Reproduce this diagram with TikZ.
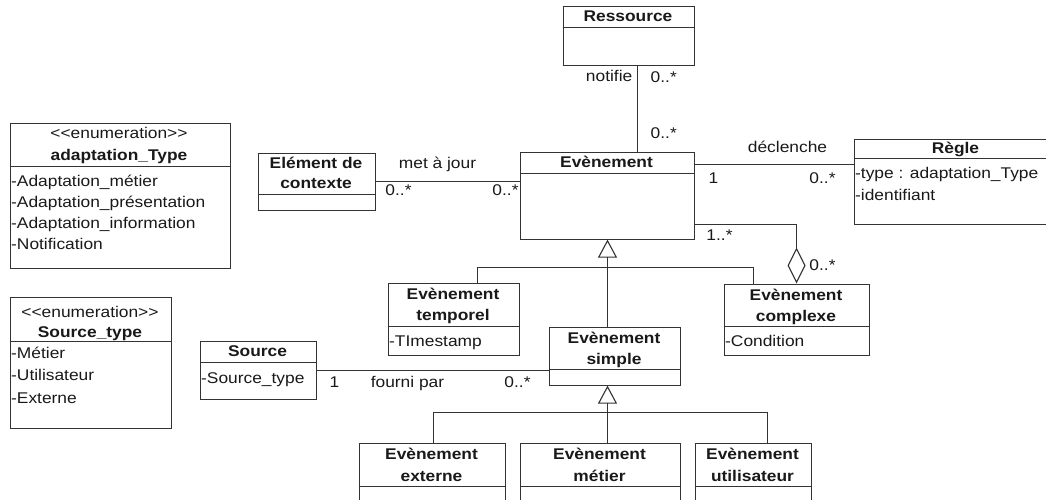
\documentclass[tikz,border=0pt]{standalone}
\usepackage{fontspec}
\setmainfont{Liberation Sans}[FakeStretch=1.12]
\usepackage{tikz}
\usetikzlibrary{arrows.meta}
\newcommand{\stereo}[1]{<\kern0pt<#1>\kern0pt>}

\begin{document}
\begin{tikzpicture}[x=1pt, y=-1pt, font=\fontsize{15.5pt}{20pt}\selectfont, text=black!90,
			cls/.style={draw=black!80, line width=1.1pt, inner sep=0pt, anchor=north west},
			ttl/.style={font=\fontsize{15.5pt}{20pt}\selectfont\bfseries, anchor=base, inner sep=0pt},
			txt/.style={anchor=base, inner sep=0pt},
			att/.style={anchor=base west, inner sep=0pt},
			lnk/.style={draw=black!80, line width=1.1pt},
			gen/.style={lnk, -{Triangle[open, length=18pt, width=19pt]}},
			agg/.style={lnk, {Diamond[open, length=36pt, width=18pt]}-}
			]
			\useasboundingbox (0,0) rectangle (1046,499);
			\clip (0,0) rectangle (1046,499);
			\begin{scope}[shift={(0.5,0.5)}]
			
			\node [cls, minimum width=220pt, minimum height=145pt](adapt) at (9,122) {};
			\node [cls, minimum width=161pt, minimum height=131pt](srctype) at (9,296) {};
			\node [cls, minimum width=131pt, minimum height=59pt](res) at (562,5) {};
			\node [cls, minimum width=117pt, minimum height=57pt](elem) at (257,152) {};
			\node [cls, minimum width=174pt, minimum height=87pt](ev) at (519,151) {};
			\node [cls, minimum width=204pt, minimum height=85pt](regle) at (853,138) {};
			\node [cls, minimum width=131pt, minimum height=72pt](temp) at (387,282) {};
			\node [cls, minimum width=145pt, minimum height=71pt](cplx) at (723,283) {};
			\node [cls, minimum width=131pt, minimum height=58pt](simple) at (548,326) {};
			\node [cls, minimum width=116pt, minimum height=58pt](src) at (199,340) {};
			\node [cls, minimum width=146pt, minimum height=70pt](ext) at (358,442) {};
			\node [cls, minimum width=160pt, minimum height=70pt](met) at (519,442) {};
			\node [cls, minimum width=116pt, minimum height=70pt](util) at (694,442) {};
			
			\draw[lnk] ([yshift=-44pt]adapt.north west) -- ([yshift=-44pt]adapt.north east);
			\draw[lnk] ([yshift=-45pt]srctype.north west) -- ([yshift=-45pt]srctype.north east);
			\draw[lnk] ([yshift=-22pt]res.north west) -- ([yshift=-22pt]res.north east);
			\draw[lnk] ([yshift=-42pt]elem.north west) -- ([yshift=-42pt]elem.north east);
			\draw[lnk] ([yshift=-22pt]ev.north west) -- ([yshift=-22pt]ev.north east);
			\draw[lnk] ([yshift=-20pt]regle.north west) -- ([yshift=-20pt]regle.north east);
			\draw[lnk] ([yshift=-44pt]temp.north west) -- ([yshift=-44pt]temp.north east);
			\draw[lnk] ([yshift=-43pt]cplx.north west) -- ([yshift=-43pt]cplx.north east);
			\draw[lnk] ([yshift=-43pt]simple.north west) -- ([yshift=-43pt]simple.north east);
			\draw[lnk] ([yshift=-22pt]src.north west) -- ([yshift=-22pt]src.north east);
			\draw[lnk] ([yshift=-44pt]ext.north west) -- ([yshift=-44pt]ext.north east);
			\draw[lnk] ([yshift=-44pt]met.north west) -- ([yshift=-44pt]met.north east);
			\draw[lnk] ([yshift=-44pt]util.north west) -- ([yshift=-44pt]util.north east);
			
			\node [txt](adapt-st) at (118.5,138) {\stereo{enumeration}};
			\node [ttl](adapt-t) at (118.5,160) {adaptation\_Type};
			\node [att](adapt-a1) at (10.5,186) {-Adaptation\_métier};
			\node [att](adapt-a2) at (10.5,207) {-Adaptation\_présentation};
			\node [att](adapt-a3) at (10.5,228) {-Adaptation\_information};
			\node [att](adapt-a4) at (10.5,249) {-Notification};
			
			\node [txt](srctype-st) at (89.5,317) {\stereo{enumeration}};
			\node [ttl](srctype-t) at (89.5,337) {Source\_type};
			\node [att](srctype-a1) at (10.5,358) {-Métier};
			\node [att](srctype-a2) at (10.5,380) {-Utilisateur};
			\node [att](srctype-a3) at (10.5,403) {-Externe};
			
			\node [ttl](res-t) at (627.5,21) {Ressource};
			\node [ttl](elem-t1) at (315.5,168) {Elément de};
			\node [ttl](elem-t2) at (315.5,188) {contexte};
			\node [ttl](ev-t) at (606,167) {Evènement};
			\node [ttl](regle-t) at (955,153) {Règle};
			\node [att](regle-a1) at (854.5,178) {-type : adaptation\_Type};
			\node [att](regle-a2) at (854.5,200) {-identifiant};
			
			\node [ttl](temp-t1) at (452.5,299) {Evènement};
			\node [ttl](temp-t2) at (452.5,320) {temporel};
			\node [att](temp-a1) at (388.5,346) {-TImestamp};
			\node [ttl](cplx-t1) at (795.5,300) {Evènement};
			\node [ttl](cplx-t2) at (795.5,321) {complexe};
			\node [att](cplx-a1) at (724.5,346) {-Condition};
			\node [ttl](simple-t1) at (613.5,343) {Evènement};
			\node [ttl](simple-t2) at (613.5,364) {simple};
			\node [ttl](src-t) at (257,356) {Source};
			\node [att](src-a1) at (200.5,383) {-Source\_type};
			
			\node [ttl](ext-t1) at (431,459) {Evènement};
			\node [ttl](ext-t2) at (431,481) {externe};
			\node [ttl](met-t1) at (599,459) {Evènement};
			\node [ttl](met-t2) at (599,481) {métier};
			\node [ttl](util-t1) at (752,459) {Evènement};
			\node [ttl](util-t2) at (752,481) {utilisateur};
			
			\coordinate (gen1) at (607,267);
			\coordinate (gen2) at (607,412);
			
			\draw[lnk] ([xshift=8.5pt]res.south) -- ([xshift=8.5pt]res.south |- ev.north);
			\draw[lnk] (elem.east) -- (elem.east -| ev.west);
			\draw[lnk] ([yshift=-13pt]ev.north east) -- ([yshift=-13pt]ev.north east -| regle.west);
			\draw[agg] (cplx.north) |- ([yshift=15pt]ev.south east);
			\draw[lnk] (src.east) -- (src.east -| simple.west);
			
			\draw[lnk] ([xshift=23.5pt]temp.north) |- (gen1) -| ([xshift=-43.5pt]cplx.north);
			\draw[gen] (gen1 |- simple.north) -- (gen1 |- ev.south);
			\draw[lnk] ([xshift=1pt]ext.north) |- (gen2) -| ([xshift=14pt]util.north);
			\draw[gen] (gen2 |- met.north) -- (gen2 |- simple.south);
			
			\node [txt, anchor=base east](l-notifie) at (632,81) {notifie};
			\node [txt, anchor=base west](l-res) at (650,82) {0..*};
			\node [txt, anchor=base west](l-ev1) at (650,138) {0..*};
			\node [txt](l-maj) at (437,168) {met à jour};
			\node [txt](l-elem) at (398,195) {0..*};
			\node [txt](l-ev2) at (505,195) {0..*};
			\node [txt](l-decl) at (787,152) {déclenche};
			\node [txt](l-ev3) at (713,183) {1};
			\node [txt](l-regle) at (822,183) {0..*};
			\node [txt](l-ev4) at (719,240) {1..*};
			\node [txt](l-cplx) at (822,270) {0..*};
			\node [txt](l-src) at (334,387) {1};
			\node [txt](l-fourni) at (407,387) {fourni par};
			\node [txt](l-simple) at (517,387) {0..*};
			\end{scope}
		\end{tikzpicture}
\end{document}
